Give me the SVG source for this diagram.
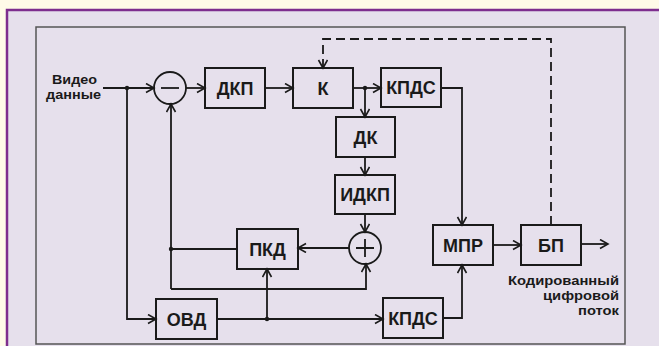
<svg xmlns="http://www.w3.org/2000/svg" width="659" height="346" viewBox="0 0 659 346">
<style>
.box{fill:none;stroke:#1a1a1a;stroke-width:2}
.lbl{font-family:"Liberation Sans",Arial,sans-serif;font-weight:bold;font-size:18px;fill:#1a1a1a;text-anchor:middle}
.txt{font-family:"Liberation Sans",Arial,sans-serif;font-weight:bold;font-size:13px;fill:#1a1a1a}
.end{text-anchor:end}
.mid{text-anchor:middle}
.ln{fill:none;stroke:#1a1a1a;stroke-width:1.8}
.dash{stroke-dasharray:9 5}
.dot{fill:#1a1a1a}
</style>
<defs>
<marker id="arr" markerUnits="userSpaceOnUse" markerWidth="12" markerHeight="12" refX="9" refY="5" orient="auto">
<path d="M1,0.5 L9,5 L1,9.5" fill="none" stroke="#1a1a1a" stroke-width="1.6"/>
</marker>
</defs>
<rect x="0" y="0" width="659" height="346" fill="#fffbe8"/>
<rect x="7" y="10" width="652" height="336" fill="#e6e0ec"/>
<path d="M7,346 V10 H659" fill="none" stroke="#7e2e8e" stroke-width="2.5"/>
<rect x="36" y="27" width="589" height="317" fill="none" stroke="#555" stroke-width="1.5"/>

<g id="connectors">
<path class="ln" d="M103,88 H154" marker-end="url(#arr)"/>
<path class="ln" d="M127,88 V319 H156" marker-end="url(#arr)"/>
<path class="ln" d="M186,88 H205" marker-end="url(#arr)"/>
<path class="ln" d="M265,88 H293" marker-end="url(#arr)"/>
<path class="ln" d="M353,88 H381" marker-end="url(#arr)"/>
<path class="ln" d="M365,88 V117" marker-end="url(#arr)"/>
<path class="ln" d="M365,157 V175" marker-end="url(#arr)"/>
<path class="ln" d="M365,214 V232" marker-end="url(#arr)"/>
<path class="ln" d="M349,248 H298" marker-end="url(#arr)"/>
<path class="ln" d="M237,249 H171"/>
<path class="ln" d="M171,289 V104" marker-end="url(#arr)"/>
<path class="ln" d="M171,289 H366 V264" marker-end="url(#arr)"/>
<path class="ln" d="M217,319 H383" marker-end="url(#arr)"/>
<path class="ln" d="M267,319 V269" marker-end="url(#arr)"/>
<path class="ln" d="M441,88 H462 V225" marker-end="url(#arr)"/>
<path class="ln" d="M443,318 H462 V265" marker-end="url(#arr)"/>
<path class="ln" d="M493,245 H521" marker-end="url(#arr)"/>
<path class="ln" d="M581,244 H608" marker-end="url(#arr)"/>
<path class="ln dash" d="M551,225 V39 H323 V68" marker-end="url(#arr)"/>
<circle class="dot" cx="127" cy="88" r="2.2"/>
<circle class="dot" cx="365" cy="88" r="2.2"/>
<circle class="dot" cx="171" cy="249" r="2.2"/>
<circle class="dot" cx="267" cy="319" r="2.2"/>
</g>

<g id="input-label">
<text class="txt mid" x="74.5" y="84" textLength="45" lengthAdjust="spacingAndGlyphs">Видео</text>
<text class="txt mid" x="73.5" y="99" textLength="55" lengthAdjust="spacingAndGlyphs">данные</text>
</g>
<g id="minus">
<circle cx="170" cy="88" r="16" fill="none" stroke="#1a1a1a" stroke-width="1.8"/>
<path d="M161,88 H179" stroke="#1a1a1a" stroke-width="1.8"/>
</g>
<g id="dkp"><rect class="box" x="205" y="68" width="60" height="40"/><text class="lbl" x="235" y="94.5">ДКП</text></g>
<g id="k"><rect class="box" x="293" y="68" width="60" height="40"/><text class="lbl" x="323" y="94.5">К</text></g>
<g id="kpds1"><rect class="box" x="381" y="68" width="60" height="39"/><text class="lbl" x="411" y="94">КПДС</text></g>
<g id="dk"><rect class="box" x="336" y="117" width="59" height="40"/><text class="lbl" x="365.5" y="143.5">ДК</text></g>
<g id="idkp"><rect class="box" x="335" y="175" width="60" height="39"/><text class="lbl" x="365" y="201">ИДКП</text></g>
<g id="plus">
<circle cx="365" cy="248" r="16" fill="none" stroke="#1a1a1a" stroke-width="1.8"/>
<path d="M356,248 H374 M365,239 V257" stroke="#1a1a1a" stroke-width="1.8"/>
</g>
<g id="pkd"><rect class="box" x="237" y="229" width="61" height="40"/><text class="lbl" x="267.5" y="255.5">ПКД</text></g>
<g id="ovd"><rect class="box" x="156" y="299" width="61" height="40"/><text class="lbl" x="186.5" y="325.5">ОВД</text></g>
<g id="kpds2"><rect class="box" x="383" y="298" width="60" height="40"/><text class="lbl" x="413" y="324.5">КПДС</text></g>
<g id="mpr"><rect class="box" x="433" y="225" width="60" height="40"/><text class="lbl" x="463" y="251.5">МПР</text></g>
<g id="bp"><rect class="box" x="521" y="225" width="60" height="40"/><text class="lbl" x="551" y="251.5">БП</text></g>
<g id="output-label">
<text class="txt end" x="619" y="285" textLength="111" lengthAdjust="spacingAndGlyphs">Кодированный</text>
<text class="txt end" x="619" y="300" textLength="76" lengthAdjust="spacingAndGlyphs">цифровой</text>
<text class="txt end" x="619" y="315" textLength="41" lengthAdjust="spacingAndGlyphs">поток</text>
</g>
</svg>
